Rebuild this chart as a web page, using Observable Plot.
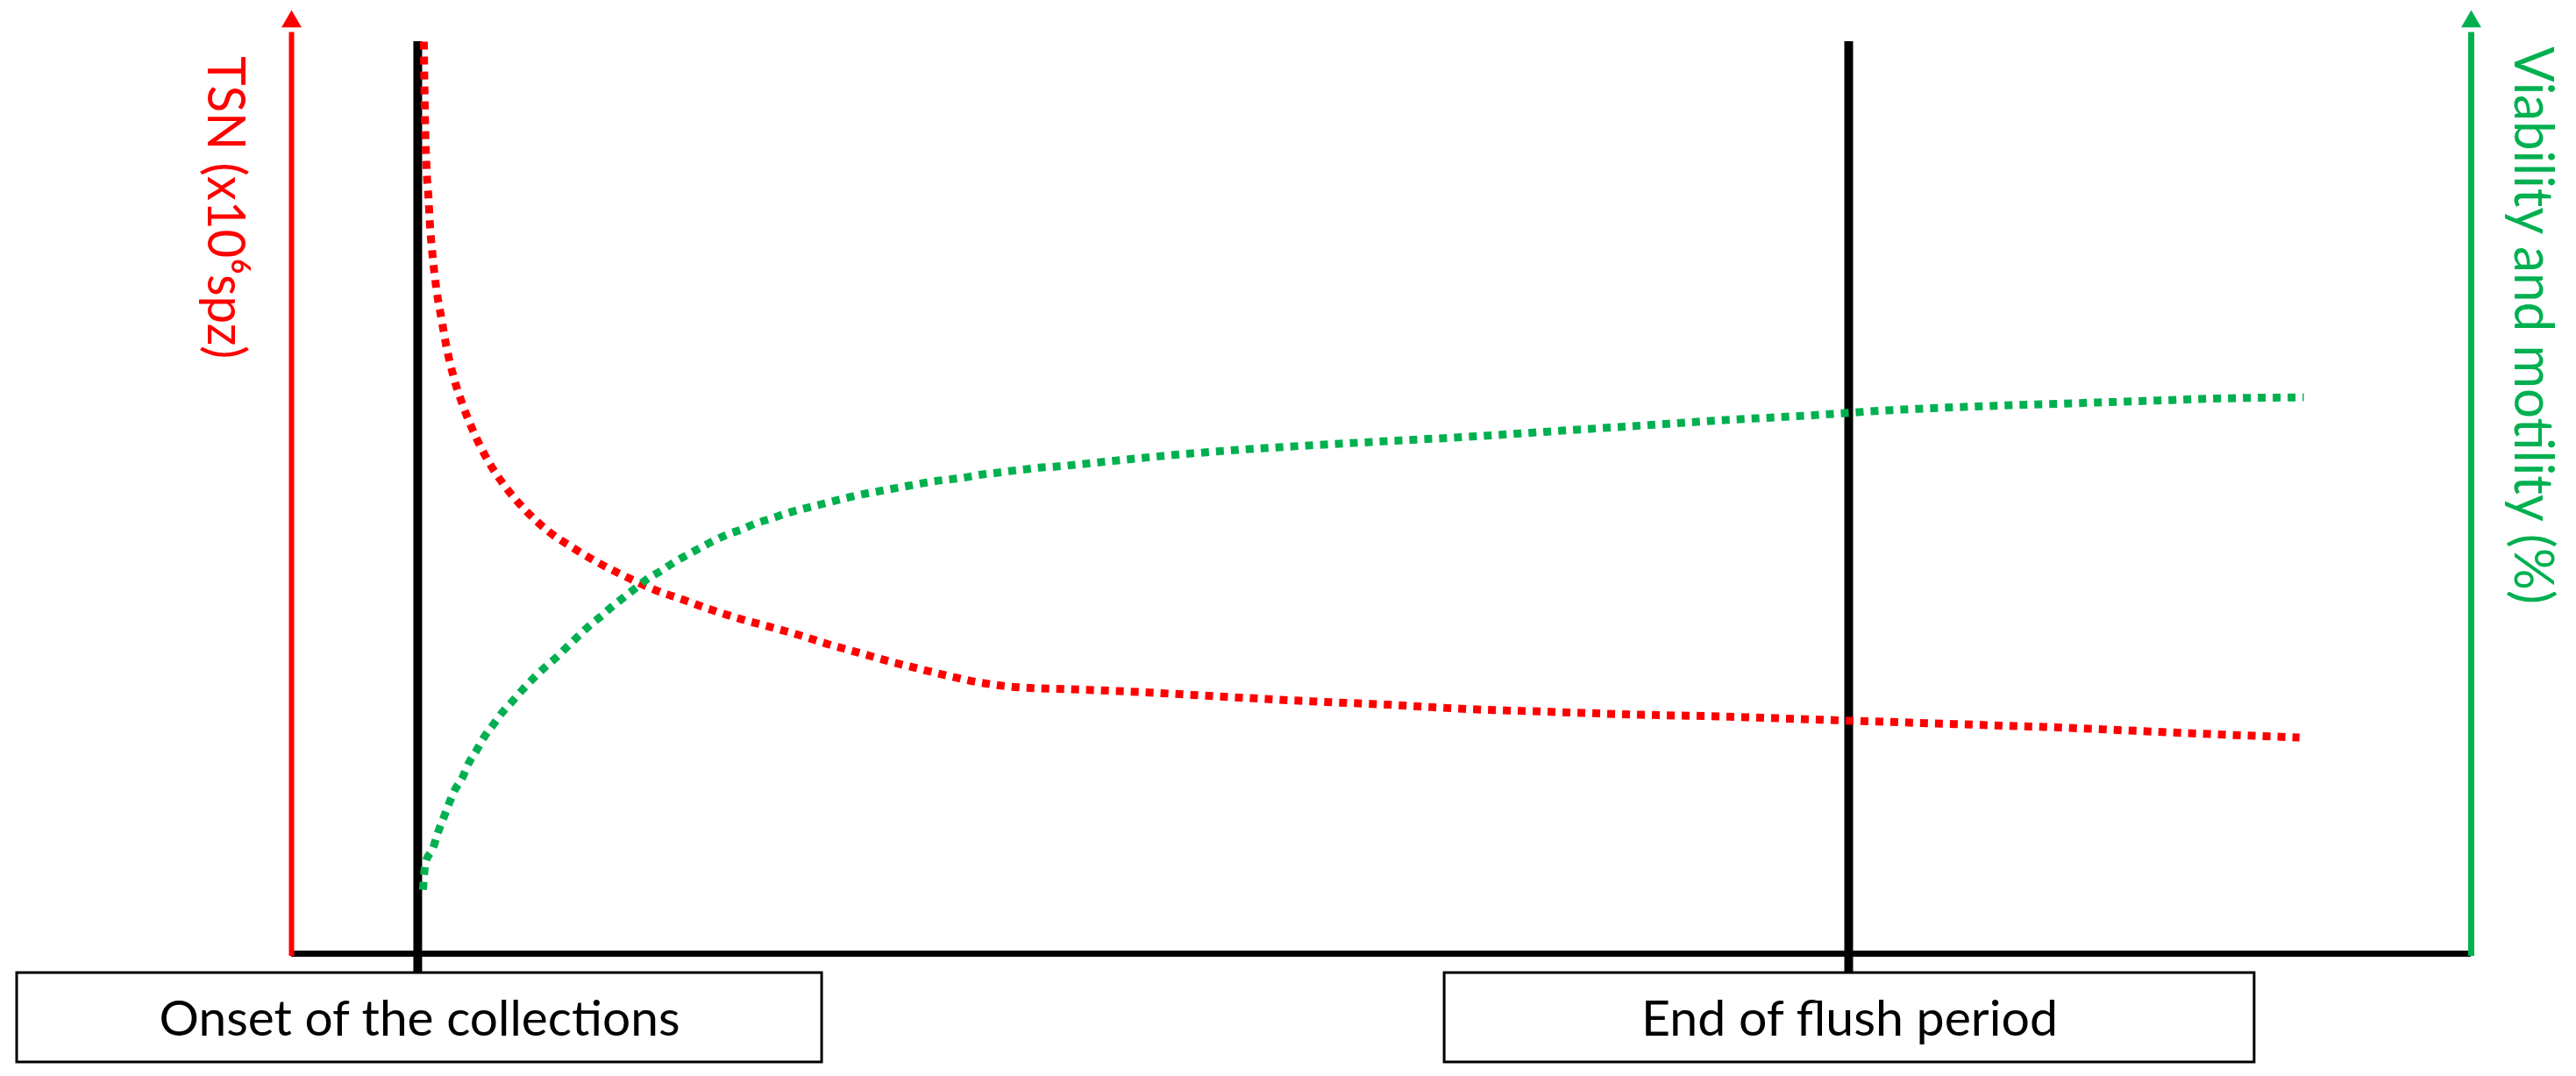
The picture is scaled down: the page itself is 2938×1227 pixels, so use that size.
<!DOCTYPE html>
<html><head><meta charset="utf-8">
<script src="https://cdn.jsdelivr.net/npm/d3@7"></script>
<script src="https://cdn.jsdelivr.net/npm/@observablehq/plot@0.6"></script>
<style>html,body{margin:0;padding:0;background:#fff;} svg{display:block}</style>
</head><body><div id="chart"></div>
<script>
// ---- data (time in arbitrary units 0-100, values in % of axis height) ----
const tsnTime  = [6.07,6.11,6.19,6.28,6.36,6.48,6.64,6.88,7.12,7.44,7.88,8.41,9.05,9.81,10.70,11.79,12.91,14.12,15.37,16.65,17.98,19.27,20.60,22.00,23.33,24.66,26.03,27.35,28.68,30.05,31.42,32.86,34.23,35.64,38.78,42.60,46.46,50.32,54.14,58.00,61.87,65.73,69.55,73.41,77.27,81.09,84.96,88.82,92.12];
const tsnValue = [100.0,93.1,86.3,83.0,79.6,76.3,73.0,69.6,66.4,63.2,60.0,56.9,53.9,51.2,48.7,46.3,44.5,42.8,41.3,39.9,38.8,37.7,36.7,35.8,34.9,33.9,33.0,32.1,31.3,30.5,29.8,29.3,29.1,29.0,28.7,28.2,27.7,27.3,26.8,26.5,26.2,26.0,25.7,25.4,25.1,24.8,24.4,24.0,23.7];
const vmTime  = [6.03,6.15,6.48,6.72,6.96,7.20,7.48,7.84,8.13,8.49,8.85,9.25,9.65,10.14,10.58,11.06,11.58,12.11,12.63,13.11,13.64,14.20,14.68,15.21,15.85,16.33,16.97,17.54,18.14,18.75,19.39,20.03,20.64,21.32,22.00,22.61,23.33,24.01,24.66,25.34,26.03,26.71,27.39,28.08,28.76,29.49,30.17,30.85,31.54,32.26,32.90,33.63,34.31,35.00,36.36,38.78,42.60,46.46,50.32,54.14,58.00,61.87,65.73,69.55,73.41,77.27,81.09,84.96,88.82,92.32];
const vmValue = [7.0,10.0,11.5,13.3,14.8,16.3,17.9,19.3,20.9,22.3,23.8,25.1,26.4,27.7,28.9,30.1,31.3,32.4,33.6,34.7,35.9,37.0,38.0,39.0,40.2,41.1,42.0,42.9,43.7,44.5,45.3,46.0,46.5,47.2,47.7,48.2,48.7,49.1,49.5,49.9,50.3,50.6,50.9,51.2,51.5,51.8,52.0,52.2,52.5,52.7,52.9,53.1,53.3,53.4,53.7,54.3,55.1,55.7,56.2,56.7,57.3,57.9,58.5,59.0,59.6,60.0,60.3,60.6,60.9,61.0];
const eventTime  = [5.79, 71.44];
const eventLabel = ["Onset of the collections", "End of flush period"];
const leftLabel  = "TSN (x10⁶spz)";
const rightLabel = "Viability and motility (%)";

// ---- layout / style ----
const RED = "#FF0000", GREEN = "#00B050";
const FONT = "Lato, 'Open Sans', 'Liberation Sans', sans-serif";
const arrowY = 102.2;
const boxX1 = [-12.59, 52.90], boxX2 = [24.34, 90.06];
const boxTop = -2.12, boxBottom = -11.92, boxTextY = -7.3;
const textLengths = {};
textLengths[eventLabel[0]] = 594;
textLengths[eventLabel[1]] = 475;
textLengths[leftLabel] = 345;
textLengths[rightLabel] = 636;

const tsn = tsnTime.map((t, i) => ({t, v: tsnValue[i]}));
const vm  = vmTime.map((t, i) => ({t, v: vmValue[i]}));
const events = eventTime.map((t, i) => ({t, label: eventLabel[i], x1: boxX1[i], x2: boxX2[i]}));

const chart = Plot.plot({
  width: 2938, height: 1227,
  marginLeft: 332, marginRight: 120, marginTop: 47, marginBottom: 140,
  x: {domain: [0, 100], axis: null},
  y: {domain: [0, 100], axis: null},
  style: {fontFamily: FONT, background: "white"},
  marks: [
    Plot.rect(events, {x1: "x1", x2: "x2", y1: boxTop, y2: boxBottom, fill: "white", stroke: "black", strokeWidth: 3}),
    Plot.text(events, {x: d => (d.x1 + d.x2) / 2, y: boxTextY, text: "label", fontSize: 56, fill: "black", textAnchor: "middle", lineAnchor: "middle"}),
    Plot.ruleY([0], {x1: 0, x2: 100, stroke: "black", strokeWidth: 7}),
    Plot.ruleX([0], {y1: -0.3, y2: 101, stroke: RED, strokeWidth: 6}),
    Plot.ruleX([100], {y1: -0.3, y2: 101, stroke: GREEN, strokeWidth: 7}),
    Plot.dot([{x: 0, y: arrowY}], {x: "x", y: "y", symbol: "triangle", r: 8.5, fill: RED}),
    Plot.dot([{x: 100, y: arrowY}], {x: "x", y: "y", symbol: "triangle", r: 8.5, fill: GREEN}),
    Plot.ruleX(events, {x: "t", y1: boxTop, y2: 100, stroke: "black", strokeWidth: 10}),
    Plot.line(tsn, {x: "t", y: "v", stroke: RED, strokeWidth: 9, strokeDasharray: "9,8", strokeLinecap: "butt", curve: "monotone-x"}),
    Plot.line(vm, {x: "t", y: "v", stroke: GREEN, strokeWidth: 9, strokeDasharray: "9,8", strokeLinecap: "butt", curve: "monotone-x"}),
    Plot.text([{x: -3.06, y: 81.8}], {x: "x", y: "y", text: () => leftLabel, rotate: 90, fontSize: 60, fill: RED, textAnchor: "middle", lineAnchor: "middle"}),
    Plot.text([{x: 102.78, y: 68.9}], {x: "x", y: "y", text: () => rightLabel, rotate: 90, fontSize: 62, fill: GREEN, textAnchor: "middle", lineAnchor: "middle"})
  ]
});

chart.querySelectorAll("text").forEach(el => {
  const L = textLengths[el.textContent];
  if (L) { el.setAttribute("textLength", L); el.setAttribute("lengthAdjust", "spacingAndGlyphs"); }
});
document.getElementById("chart").appendChild(chart);
</script>
</body></html>
